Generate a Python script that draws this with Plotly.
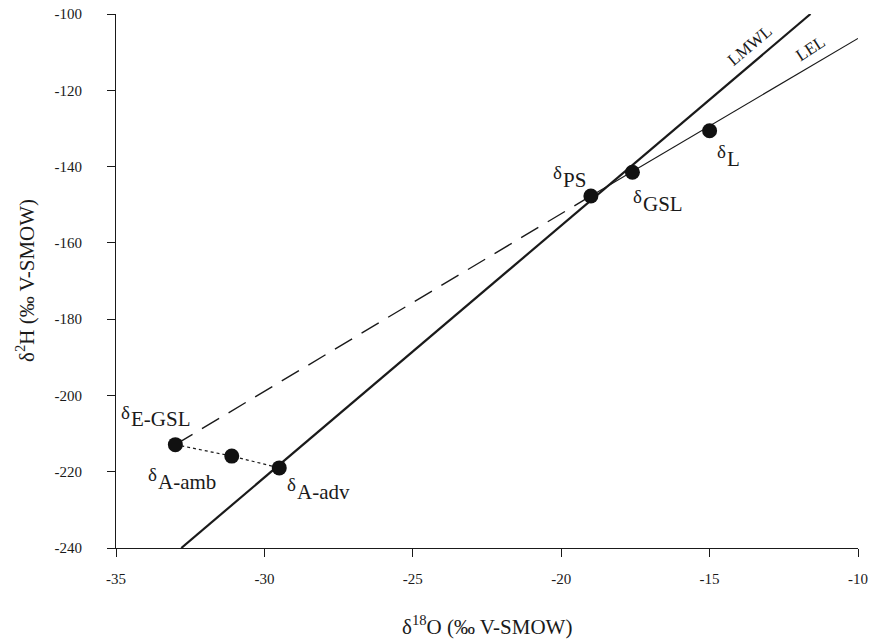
import plotly.graph_objects as go

# Isotope samples (δ18O, δ2H in ‰ V-SMOW)
point_names = ["L", "GSL", "PS", "E-GSL", "A-amb", "A-adv"]
d18o = [-15.0, -17.6, -19.0, -33.0, -31.1, -29.5]
d2h = [-130.6, -141.5, -147.7, -212.9, -215.9, -219.0]

# Local meteoric water line and local evaporation line end points
lmwl_x = [-32.8, -11.6]
lmwl_y = [-240.0, -100.0]
lel_x = [-19.0, -10.0]
lel_y = [-147.7, -106.4]

# Axis ticks
x_ticks = [-35, -30, -25, -20, -15, -10]
y_ticks = [-240, -220, -200, -180, -160, -140, -120, -100]

FONT = "Liberation Serif"
INK = "#1a1a1a"
idx = {n: i for i, n in enumerate(point_names)}

fig = go.Figure()

# LMWL
fig.add_trace(go.Scatter(x=lmwl_x, y=lmwl_y, mode="lines",
                         line=dict(color=INK, width=2.2), hoverinfo="skip"))
# LEL
fig.add_trace(go.Scatter(x=lel_x, y=lel_y, mode="lines",
                         line=dict(color=INK, width=1.2), hoverinfo="skip"))
# Evaporate back to the pre-storm water
e, p = idx["E-GSL"], idx["PS"]
fig.add_trace(go.Scatter(x=[d18o[e], d18o[p]], y=[d2h[e], d2h[p]], mode="lines",
                         line=dict(color=INK, width=1.4, dash="20px,11px"),
                         hoverinfo="skip"))
# Mixing of atmospheric moisture
mix = [idx["E-GSL"], idx["A-amb"], idx["A-adv"]]
fig.add_trace(go.Scatter(x=[d18o[i] for i in mix], y=[d2h[i] for i in mix], mode="lines",
                         line=dict(color=INK, width=1.2, dash="dot"),
                         hoverinfo="skip"))
# Sample points
fig.add_trace(go.Scatter(x=d18o, y=d2h, mode="markers",
                         marker=dict(color="#111111", size=15), hoverinfo="skip"))

# Label anchors: left edge of the δ and vertical middle of the subscript name
label_pos = {
    "L": (-14.75, -137.9),
    "GSL": (-17.58, -149.7),
    "PS": (-20.28, -143.5),
    "E-GSL": (-34.83, -206.3),
    "A-amb": (-33.92, -222.6),
    "A-adv": (-29.24, -225.3),
}
for name in point_names:
    lx, ly = label_pos[name]
    fig.add_annotation(x=lx, y=ly, xref="x", yref="y", showarrow=False,
                       xanchor="left", yanchor="middle", yshift=7, xshift=-2,
                       text="δ", font=dict(family=FONT, size=19, color=INK))
    fig.add_annotation(x=lx, y=ly, xref="x", yref="y", showarrow=False,
                       xanchor="left", yanchor="middle", xshift=8,
                       text=name, font=dict(family=FONT, size=21, color=INK))

fig.add_annotation(x=-13.64, y=-108.3, xref="x", yref="y", showarrow=False,
                   text="LMWL", textangle=-40,
                   font=dict(family=FONT, size=17, color=INK))
fig.add_annotation(x=-11.59, y=-109.1, xref="x", yref="y", showarrow=False,
                   text="LEL", textangle=-33,
                   font=dict(family=FONT, size=17, color=INK))

# Axis titles
fig.add_annotation(x=0.5, y=0, xref="paper", yref="paper", showarrow=False,
                   xanchor="center", yanchor="middle", yshift=-77,
                   text="δ<sup>18</sup>O (‰ V-SMOW)",
                   font=dict(family=FONT, size=21, color=INK))
fig.add_annotation(x=0, y=0.5, xref="paper", yref="paper", showarrow=False,
                   xanchor="center", yanchor="middle", xshift=-91, textangle=-90,
                   text="δ<sup>2</sup>H (‰ V-SMOW)",
                   font=dict(family=FONT, size=21, color=INK))

fig.update_layout(
    width=872, height=643,
    margin=dict(l=116, r=14, t=14, b=95),
    paper_bgcolor="white", plot_bgcolor="white",
    showlegend=False,
    font=dict(family=FONT, size=15, color=INK),
)
fig.update_xaxes(
    range=[-35, -10], tickvals=x_ticks, ticktext=[str(v) for v in x_ticks],
    automargin=False,
    showgrid=False, zeroline=False, showline=True, linecolor=INK, linewidth=1.2,
    ticks="outside", ticklen=8, tickcolor=INK, tickwidth=1.2,
    ticklabelstandoff=9,
)
fig.update_yaxes(
    range=[-240, -100], tickvals=y_ticks, ticktext=[str(v) for v in y_ticks],
    automargin=False,
    showgrid=False, zeroline=False, showline=True, linecolor=INK, linewidth=1.2,
    ticks="outside", ticklen=8, tickcolor=INK, tickwidth=1.2,
    ticklabelstandoff=22,
)

fig.write_html("out.html")
